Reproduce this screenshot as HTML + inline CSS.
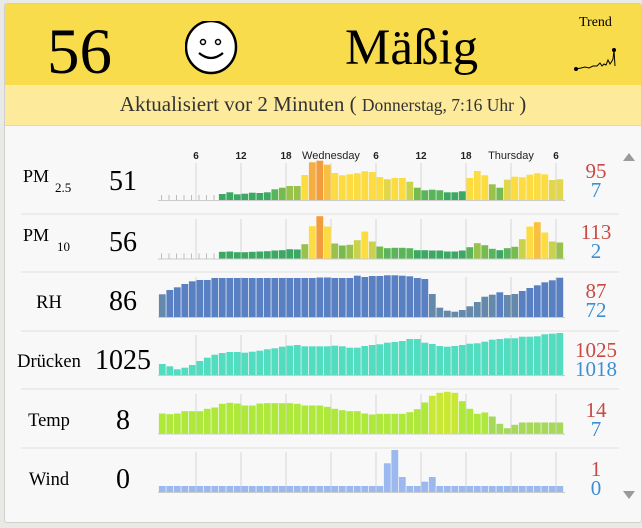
<!DOCTYPE html>
<html><head><meta charset="utf-8">
<style>
html,body{margin:0;padding:0;width:642px;height:528px;overflow:hidden;background:#e9e9e6;font-family:"DejaVu Serif","Liberation Serif",serif;}
#card{position:absolute;left:4px;top:3px;width:636px;height:518px;background:#f8f8f8;border:1px solid #cfcfcf;border-radius:3px;overflow:hidden}
#hdr{position:absolute;left:0;top:0;width:636px;height:81px;background:#f9dc4b}
#band{position:absolute;left:0;top:81px;width:636px;height:40px;background:#fdeb9b;border-bottom:1px solid #e2d9a8}
.t{position:absolute;white-space:nowrap}
</style></head><body>
<div id="card">
<div id="hdr">
 <div class="t" style="left:42px;top:10px;font-size:65px;font-family:'Liberation Serif',serif;line-height:76px">56</div>
 <svg class="t" style="left:180px;top:17px" width="56" height="56"><ellipse cx="26" cy="26" rx="25" ry="26" fill="#fff" stroke="#000" stroke-width="2.5"/><circle cx="18" cy="21" r="2.5" fill="none" stroke="#000" stroke-width="1.5"/><circle cx="33" cy="21" r="2.5" fill="none" stroke="#000" stroke-width="1.5"/><path d="M14 32 Q26 42 38 32" fill="none" stroke="#000" stroke-width="2.2"/></svg>
 <div class="t" style="left:340px;top:14px;font-size:51px;font-family:'Liberation Serif',serif;line-height:60px">Mäßig</div>
 <div class="t" style="left:574px;top:11px;font-size:14px;font-family:'Liberation Serif',serif">Trend</div>
 <svg class="t" style="left:568px;top:38px" width="44" height="30"><polyline points="3,27 8,26 12,25 16,26 20,24 24,24 27,21 29,24 31,22 33,23 35,18 37,22 39,19 40,17 41,8 42,24" fill="none" stroke="#000" stroke-width="1"/><circle cx="3" cy="27" r="2" fill="#000"/><circle cx="41" cy="8" r="2" fill="#000"/></svg>
</div>
<div id="band"><div class="t" style="left:0;width:636px;text-align:center;top:7px;font-size:21px;color:#333;font-family:'Liberation Serif',serif">Aktualisiert vor 2 Minuten ( <span style="font-size:17.5px">Donnerstag, 7:16 Uhr</span> )</div></div>
<svg id="ch" class="t" style="left:-4px;top:-3px" width="642" height="528"></svg>
</div>
<script>
var ns="http://www.w3.org/2000/svg",s=document.getElementById('ch');
function el(n,a,txt){var e=document.createElementNS(ns,n);for(var k in a)e.setAttribute(k,a[k]);if(txt!=null)e.textContent=txt;s.appendChild(e);return e;}
var seps=[213,271,330,388,447];
seps.forEach(function(y){el('line',{x1:20,x2:618,y1:y,y2:y,stroke:'#e4e4e4','stroke-width':1.2});});
var grid=[195,240,285,330,375,420,465,510,555];
var rows=[[162,200],[218,258],[276,316],[334,374],[393,433],[451,491]];
rows.forEach(function(r){grid.forEach(function(x){el('line',{x1:x,x2:x,y1:r[0],y2:r[1],stroke:'#dcdcdc','stroke-width':1.2});});});
var tl=[[195,'6'],[240,'12'],[285,'18'],[330,'Wednesday'],[375,'6'],[420,'12'],[465,'18'],[510,'Thursday'],[555,'6']];
tl.forEach(function(t){el('text',{x:t[0],y:158,'font-size':t[1].length>2?11:10,'font-weight':t[1].length>2?'normal':'bold','font-family':'Liberation Sans,sans-serif','text-anchor':'middle',fill:'#222'},t[1]);});
var pm25=[6,7.7,5.7,6.3,7.3,7,7.7,10.7,12.3,14,14,25,37.7,39.3,35.3,27,24.7,25.7,26.7,28.7,28,23,20.7,22,22,18.3,12.3,9.7,10.3,9.7,7.7,7.7,8.7,22,29,24.7,15.7,12.3,20.3,23.3,22.7,25.3,26.7,25.7,20,20.7];
var pm10=[6.7,7,6.3,6.3,6.7,7,7.3,8,8.3,9.3,9,14.3,32.3,42.3,32,15,13,13.7,18.3,27,17,12,10.3,10.7,10.7,10.3,8.3,8.3,8,8,7,7,8,11.3,15.3,13.3,9.7,8.3,10.3,11.7,19.3,32,36.3,26,17,16];
var rh=[22.7,27,29.7,33,35.7,37,37,39,39,39,39,39,39,39,39,39,39,39,39,39,39,39.5,39.5,39,39,39,41.3,40,41,41,41.7,41.7,41.3,40.7,39,38,23,9.3,6.3,5.3,7,10.7,15,20.3,22.3,24.7,22,23,26,29,31.7,34.7,36.7,39.3];
var pr=[11,8.7,5.7,7.3,10,14,17.3,20.3,22,23,23,22.3,23.3,24.3,25.7,26.7,28.3,29.3,30,28.7,28.7,28.7,28.7,29.3,28.7,27.3,27.3,29,30,30.7,32.3,33,34,36,36,32.3,31,29,28.3,29,30,31.3,31.7,33.3,35.3,36,36.7,36.7,38.3,38.3,38.7,40.7,41.3,42];
var tp=[20,19.3,20,22.3,22.3,22.3,24.7,26,29.7,30.7,30,28,28,30,30.3,30.3,30.3,30.3,29.7,28,28,28,26.7,24.7,23.3,22.3,22.3,20,19,19.7,19.7,19.7,19.7,21.3,24.3,31,37.7,40.7,41.7,40.7,32.3,24.7,19.7,21,17,9.7,5.3,8.7,11,11,11,11,11,11];
var wd=[];for(var i=0;i<54;i++)wd.push(6);wd[30]=28.7;wd[31]=42;wd[32]=15;wd[35]=10.3;wd[36]=15;
function pmc(h,sc){h=h*sc;if(h<9)return'#3da864';if(h<11)return'#5ab45a';if(h<13)return'#76bb4e';if(h<16)return'#98c24c';if(h<20)return'#c9d24a';if(h<22)return'#e2d64a';if(h<33)return'#fcdc40';if(h<37)return'#f8c040';if(h<39)return'#f6ae42';return'#f39c3c';}
function bars(data,start,base,col){for(var k=0;k<data.length;k++){var i=start+k,h=data[k];var x=157.5+7.5*i;el('rect',{x:x+0.4,y:base-h,width:6.8,height:h,fill:typeof col=='function'?col(h,i):col});}}
function ticks(base){for(var i=0;i<8;i++){var x=160.5+7.5*i;el('line',{x1:x,x2:x,y1:base-5,y2:base,stroke:'#bbb','stroke-width':1});}}
ticks(199);ticks(257.5);
bars(pm25,8,199,function(h){return pmc(h,1);});
bars(pm10,8,257.5,function(h){return pmc(h,0.95);});
bars(rh,0,316,function(h){return h<24?'#6589aa':'#5a80c4';});
bars(pr,0,374,'#52dcc0');
bars(tp,0,432.5,function(h,i){return i>=44?'#a6d85a':(h>36?'#c8e834':'#aee83a');});
bars(wd,0,491,'#9bb9ee');
[199,257.5,316,374,432.5,491].forEach(function(b){el('line',{x1:157,x2:564,y1:b+0.5,y2:b+0.5,stroke:'#ccc','stroke-width':1});});
var L=[["PM",181,"2.5"],["PM",240,"10"],["RH",301],["Drücken",360],["Temp",419],["Wind",478]];
var V=["51","56","86","1025","8","0"],Y=[189,250,309,368,428,487];
var H=[["95","7"],["113","2"],["87","72"],["1025","1018"],["14","7"],["1","0"]];
for(var r=0;r<6;r++){
 var f='Liberation Serif,serif';
 if(L[r][2]){el('text',{x:22,y:L[r][1],'font-size':18,'font-family':f},L[r][0]);el('text',{x:r==0?54:56,y:L[r][1]+10,'font-size':13,'font-family':f},L[r][2]);}
 else el('text',{x:48,y:L[r][1]+6,'font-size':18.5,'font-family':f,'text-anchor':'middle'},L[r][0]);
 el('text',{x:122,y:Y[r],'font-size':28,'font-family':f,'text-anchor':'middle'},V[r]);
 el('text',{x:595,y:Y[r]-12,'font-size':21,'font-family':f,'text-anchor':'middle',fill:'#c94a44'},H[r][0]);
 el('text',{x:595,y:Y[r]+7,'font-size':21,'font-family':f,'text-anchor':'middle',fill:'#3d8fd2'},H[r][1]);
}
el('polygon',{points:'622,160 634,160 628,152',fill:'#9a9a9a'});
el('polygon',{points:'622,490 634,490 628,498',fill:'#9a9a9a'});
</script>
</body></html>
